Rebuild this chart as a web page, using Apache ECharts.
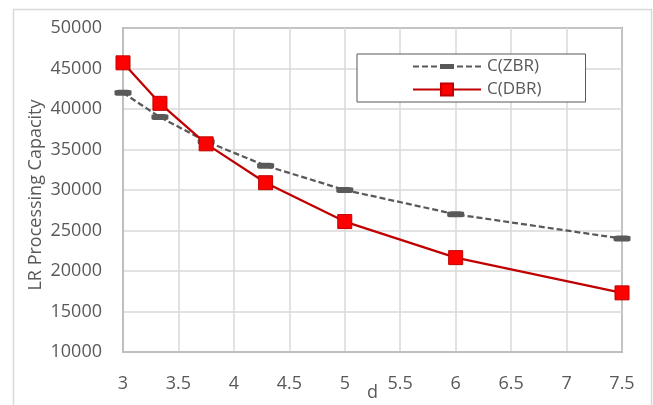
<!DOCTYPE html>
<html>
<head>
<meta charset="utf-8">
<script src="https://cdn.jsdelivr.net/npm/echarts@6/dist/echarts.min.js"></script>
<style>
html,body{margin:0;padding:0;background:#fff;}
#c{width:653px;height:405px;}
</style>
</head>
<body>
<div id="c"></div>
<script>
const dValues = [3, 3.333, 3.75, 4.286, 5, 6, 7.5];
const zbrValues = [42000, 39000, 36000, 33000, 30000, 27000, 24000];
const dbrValues = [45700, 40700, 35700, 30900, 26100, 21650, 17300];
const seriesNames = ['C(ZBR)', 'C(DBR)'];
const xTicks = {min: 3, max: 7.5, interval: 0.5};
const yTicks = {min: 10000, max: 50000, interval: 5000};

const FONT = '"Open Sans", sans-serif';
const chart = echarts.init(document.getElementById('c'), null, {renderer: 'canvas'});
const pair = (xs, ys) => xs.map((x, i) => [x, ys[i]]);

// legend glyph for the dashed series: dashes with a flat bar in the middle
const zbrLegendIcon = 'path://' +
  'M0,1.5h6v2h-6z M9,1.5h6v2h-6z M18,1.5h6v2h-6z ' +
  'M27,0h14v5h-14z ' +
  'M44,1.5h6v2h-6z M53,1.5h6v2h-6z M62,1.5h6v2h-6z';

chart.setOption({
  animation: false,
  backgroundColor: '#fff',
  textStyle: {fontFamily: FONT},
  graphic: [{
    type: 'rect', left: 11, top: 7, z: -10,
    shape: {width: 638, height: 420},
    style: {fill: 'none', stroke: '#d9d9d9', lineWidth: 1.5}
  }],
  grid: {left: 123, top: 28, width: 499, height: 324, outerBoundsMode: 'none', containLabel: false,
    show: true, borderColor: '#595959', borderWidth: 1.5, backgroundColor: 'transparent'},
  legend: {
    orient: 'vertical', left: 357, top: 54,
    padding: [4, 44, 4, 55], itemGap: 6,
    itemWidth: 68, itemHeight: 15,
    borderColor: '#595959', borderWidth: 1, backgroundColor: '#fff',
    textStyle: {fontSize: 17, color: '#595959', fontFamily: FONT, padding: [0, 0, 0, 1]},
    data: [{name: seriesNames[0], icon: zbrLegendIcon}, {name: seriesNames[1]}]
  },
  xAxis: {
    type: 'value', min: xTicks.min, max: xTicks.max, interval: xTicks.interval,
    name: 'd', nameLocation: 'middle', nameGap: 32, nameMoveOverlap: false,
    nameTextStyle: {fontSize: 18, color: '#595959', fontFamily: FONT},
    axisLine: {show: true, lineStyle: {color: '#bfbfbf', width: 2}},
    axisTick: {show: false},
    axisLabel: {fontSize: 18, color: '#595959', margin: 23, fontFamily: FONT, formatter: v => String(v)},
    splitLine: {show: true, lineStyle: {color: '#d9d9d9', width: 1.5}}
  },
  yAxis: {
    type: 'value', min: yTicks.min, max: yTicks.max, interval: yTicks.interval,
    name: 'LR Processing Capacity', nameLocation: 'middle', nameGap: 78, nameMoveOverlap: false,
    nameTextStyle: {fontSize: 18, color: '#595959', fontFamily: FONT, padding: [0, 10, 0, 0]},
    axisLine: {show: true, lineStyle: {color: '#bfbfbf', width: 2}},
    axisTick: {show: false},
    axisLabel: {fontSize: 18, color: '#595959', margin: 21, fontFamily: FONT, formatter: v => String(v)},
    splitLine: {show: true, lineStyle: {color: '#d9d9d9', width: 1.5}}
  },
  series: [
    {
      name: seriesNames[0], type: 'line', data: pair(dValues, zbrValues),
      symbol: 'roundRect', symbolSize: [17, 6],
      lineStyle: {color: '#595959', width: 2.25, type: [6, 3]},
      itemStyle: {color: '#595959', borderWidth: 0},
      z: 2
    },
    {
      name: seriesNames[1], type: 'line', data: pair(dValues, dbrValues),
      symbol: 'rect', symbolSize: 14,
      lineStyle: {color: '#c00000', width: 2.25},
      itemStyle: {color: '#ff0000', borderColor: '#c00000', borderWidth: 1},
      z: 3
    }
  ]
});
</script>
</body>
</html>
